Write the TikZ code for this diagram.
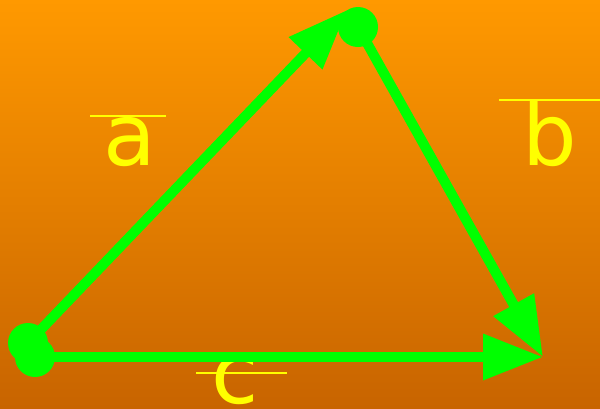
\documentclass[tikz,border=0pt]{standalone}
\usepackage{fontspec}
\setmainfont{DejaVu Sans}
\usetikzlibrary{arrows.meta}
\definecolor{bgtop}{RGB}{255,153,0}
\definecolor{bgbot}{RGB}{200,100,0}
\definecolor{vgreen}{RGB}{0,255,0}
\definecolor{vyellow}{RGB}{255,255,0}
\tikzset{
  vec/.style={draw=vgreen, line width=10pt, -{Triangle[length=60pt,width=44pt]}},
  dot/.style={circle, fill=vgreen, minimum size=40pt, inner sep=0pt},
  lab/.style={text=vyellow, font=\fontsize{86pt}{86pt}\selectfont, inner sep=0pt, anchor=base},
  bar/.style={draw=vyellow, line width=2pt}
}
\begin{document}
\begin{tikzpicture}[x=1pt,y=-1pt]
\useasboundingbox (0,0) rectangle (600,408);
\clip (0,0) rectangle (600,408);
\shade[top color=bgtop, bottom color=bgbot] (0,0) rectangle (600,408);
% labels
\node[lab] (la) at (130,165) {a};
\node[lab] (lb) at (550,165) {b};
\node[lab] (lc) at (235,403) {c};
\draw[bar] (90,116) -- (166,116);
\draw[bar] (499,100) -- (600,100);
\draw[bar] (196,373) -- (287,373);
% points
\node[dot] (A) at (28,343) {};
\node[dot] (B) at (35,357) {};
\node[dot] (C) at (358,27) {};
\coordinate (Ta) at (347,10);
\coordinate (Tb) at (543,357);
\coordinate (Tc) at (543,357);
% vectors
\draw[vec] (A.center) -- (Ta);
\draw[vec] (C.center) -- (Tb);
\draw[vec] (B.center) -- (Tc);
\end{tikzpicture}
\end{document}
